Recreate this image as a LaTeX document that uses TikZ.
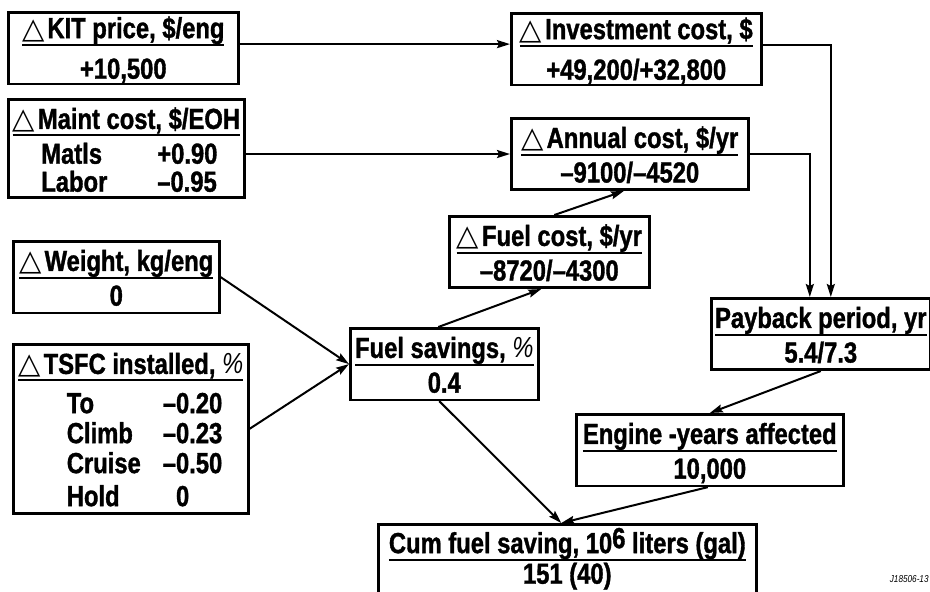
\documentclass[tikz,border=0pt]{standalone}
\usepackage{fontspec}
\setmainfont{Liberation Sans}[FakeStretch=0.82,BoldFeatures={FakeBold=1.2}]
\newfontfamily\trifont{DejaVu Sans}
\usetikzlibrary{positioning,arrows.meta}
\newcommand{\tri}{{\mdseries\trifont △}\kern1.5pt}
\newcommand{\pct}{{\mdseries\itshape\%}}
\newcommand{\hdr}[1]{\rule[-2.6pt]{0pt}{17.4pt}#1}
\newcommand{\vl}[1]{\rule[-3.6pt]{0pt}{17.1pt}#1}
\renewcommand{\arraystretch}{0}
\setlength{\arrayrulewidth}{0.8pt}
\tikzset{
  box/.style = {rectangle, draw, line width=1.3pt,
                inner xsep=0pt, inner ysep=0pt, anchor=north west,
                font=\fontsize{14.5}{17}\selectfont\bfseries},
  arr/.style = {-{Stealth[length=6.5pt,width=4pt,inset=1pt]}, line width=1pt}
}

\begin{document}
\begin{tikzpicture}[x=0.5pt,y=-0.5pt]
  \useasboundingbox (0,0) rectangle (930,591);

  % inputs
  \node[box,minimum width=115pt] (kit) at (7,11)
    {\begin{tabular}{@{}c@{}}\rule[-3.1pt]{0pt}{16pt}\tri KIT price, \$/eng\\\hline
     \rule[-2.6pt]{0pt}{19pt}+10,500\end{tabular}};
  \node[box,minimum width=118pt] (maint) at (7,98)
    {\begin{tabular}{@{}c@{}}\hdr{\tri Maint cost, \$/EOH}\\\hline
     \rule[-3pt]{0pt}{17pt}\hspace*{4pt}\makebox[58pt][l]{Matls}\makebox[31pt][l]{+0.90}\\
     \rule[-3pt]{0pt}{14pt}\hspace*{4pt}\makebox[58pt][l]{Labor}\makebox[31pt][l]{--0.95}\end{tabular}};
  \node[box,minimum width=103pt] (weight) at (12,240)
    {\begin{tabular}{@{}c@{}}\hdr{\tri Weight, kg/eng}\\\hline\vl{0}\end{tabular}};
  \node[box,minimum width=117.5pt] (tsfc) at (12,343)
    {\begin{tabular}{@{}c@{}}\hdr{\tri TSFC installed, \pct}\\\hline
     \rule[-3pt]{0pt}{19.2pt}\hspace*{15pt}\makebox[48pt][l]{To}\makebox[31pt][l]{--0.20}\\
     \rule[-3pt]{0pt}{15pt}\hspace*{15pt}\makebox[48pt][l]{Climb}\makebox[31pt][l]{--0.23}\\
     \rule[-3pt]{0pt}{15pt}\hspace*{15pt}\makebox[48pt][l]{Cruise}\makebox[31pt][l]{--0.50}\\
     \rule[-3.6pt]{0pt}{17.1pt}\hspace*{15pt}\makebox[48pt][l]{Hold}\makebox[31pt][l]{\hphantom{--}0}\end{tabular}};

  % costs
  \node[box,minimum width=125pt] (invest) at (510,12)
    {\begin{tabular}{@{}c@{}}\rule[-3.1pt]{0pt}{16pt}\tri Investment cost, \$\\\hline
     \rule[-2.6pt]{0pt}{19pt}+49,200/+32,800\end{tabular}};
  \node[box,minimum width=118.5pt] (annual) at (510,117)
    {\begin{tabular}{@{}c@{}}\hdr{\tri Annual cost, \$/yr}\\\hline\vl{--9100/--4520}\end{tabular}};
  \node[box,minimum width=100pt] (fuelcost) at (448,215)
    {\begin{tabular}{@{}c@{}}\hdr{\tri Fuel cost, \$/yr}\\\hline\vl{--8720/--4300}\end{tabular}};
  \node[box,minimum width=94pt] (fuelsav) at (349,327)
    {\begin{tabular}{@{}c@{}}\hdr{Fuel savings, \pct}\\\hline\vl{0.4}\end{tabular}};

  % results
  \node[box,minimum width=109.5pt] (payback) at (710,297)
    {\begin{tabular}{@{}c@{}}\hdr{Payback period, yr}\\\hline\vl{5.4/7.3}\end{tabular}};
  \node[box,minimum width=133.5pt] (engine) at (575,413)
    {\begin{tabular}{@{}c@{}}\hdr{Engine -years affected}\\\hline\vl{10,000}\end{tabular}};
  \node[box,minimum width=189pt] (cum) at (377,523)
    {\begin{tabular}{@{}c@{}}\rule[-3.1pt]{0pt}{17.5pt}Cum fuel saving, 10\raisebox{2.5pt}{6} liters (gal)\\\hline
     \rule[-10pt]{0pt}{21.4pt}151 (40)\end{tabular}};
  \node[font=\fontsize{5}{6}\selectfont\itshape,anchor=east,inner sep=0pt] (code) at (929,579) {J18506-13};

  % connectors
  \draw[arr] ([yshift=2pt]kit.east) -- ([yshift=2pt]kit.east -| invest.west);
  \draw[arr] (annual.west -| maint.east) -- (annual.west);
  \draw[arr] ([yshift=2pt]invest.east) -| ([xshift=5pt]payback.north);
  \draw[arr] (annual.east) -| ([xshift=-5.5pt]payback.north);
  \draw[arr] (weight.east) -- (fuelsav.west);
  \draw[arr] (tsfc.east) -- (fuelsav.west);
  \draw[arr] ([xshift=-3pt]fuelsav.north) -- ([xshift=-4pt]fuelcost.south);
  \draw[arr] ([xshift=2.5pt]fuelcost.north) -- ([xshift=-3pt]annual.south);
  \draw[arr] (payback.south) -- (engine.north);
  \draw[arr] ([xshift=-1pt]engine.south) -- ([xshift=-3pt]cum.north);
  \draw[arr] ([xshift=-2.5pt]fuelsav.south) -- ([xshift=-3pt]cum.north);
\end{tikzpicture}
\end{document}
